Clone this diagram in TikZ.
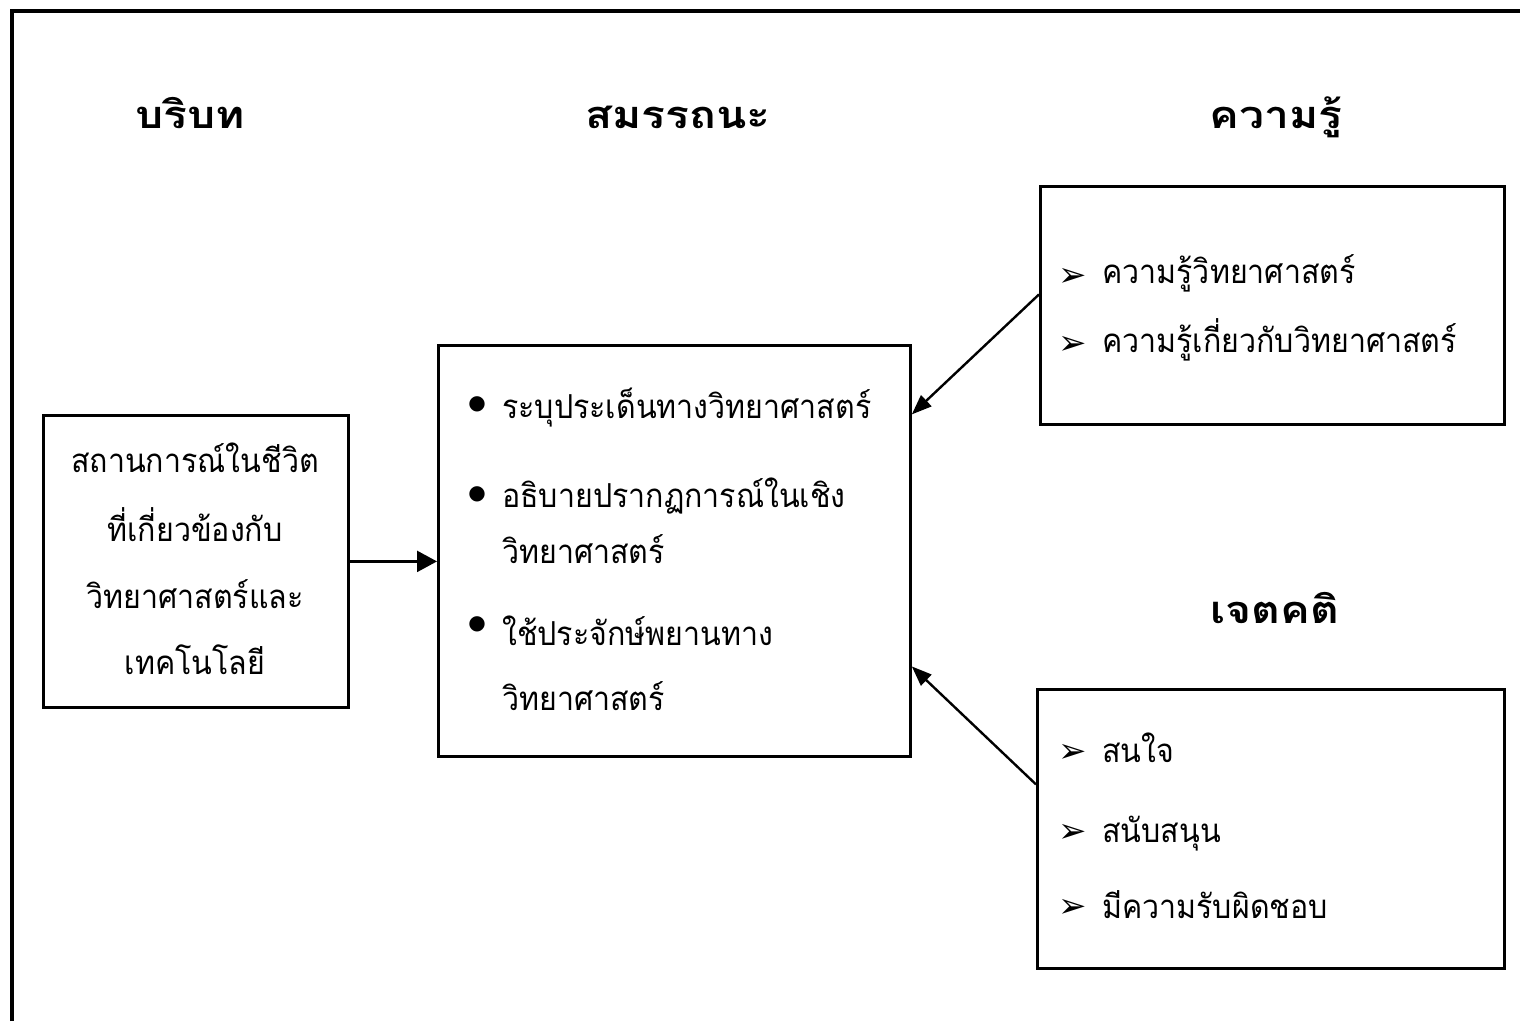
\documentclass[tikz,border=0pt]{standalone}
\usepackage{fontspec}
\newfontfamily\thai[Script=Thai,FakeStretch=0.92]{Loma}
\newfontfamily\thaiw[Script=Thai,FakeStretch=1.17]{Loma}
\newfontfamily\sym{DejaVu Sans}
\usetikzlibrary{arrows.meta,calc}
\begin{document}
\begin{tikzpicture}[x=1pt,y=-1pt,
 box/.style={draw,line width=2.8pt,inner sep=0,anchor=north west},
 ttl/.style={font=\thaiw\bfseries\fontsize{38}{44}\selectfont,anchor=base,inner sep=0},
 txt/.style={font=\thai\fontsize{33}{40}\selectfont,anchor=base west,inner sep=0},
 ctxt/.style={font=\thai\fontsize{33}{40}\selectfont,anchor=base,inner sep=0},
 bul/.style={font=\sym\fontsize{20}{24}\selectfont,anchor=center,inner sep=0},
 arb/.style={font=\sym\fontsize{34}{38}\selectfont,anchor=center,inner sep=0},
 conn/.style={line width=2.4pt,-{Triangle[length=20pt,width=15pt]}}]
\useasboundingbox (0,0) rectangle (1520,1021);
\draw[line width=4pt] (12,1021) -- (12,11) -- (1520,11);
% titles
\node[ttl] (t1) at (190,128) {บริบท};
\node[ttl] (t2) at (678,128) {สมรรถนะ};
\node[ttl] (t3) at (1276,128) {ความรู้};
\node[ttl] (t4) at (1275,623) {เจตคติ};
% boxes
\node[box,minimum width=305pt,minimum height=292pt] (ctx) at (42,414) {};
\node[box,minimum width=472pt,minimum height=411pt] (cmp) at (437,344) {};
\node[box,minimum width=464pt,minimum height=238pt] (kn) at (1039,185) {};
\node[box,minimum width=467pt,minimum height=279pt] (att) at (1036,688) {};
% context text
\node[ctxt] (c1) at (195,472) {สถานการณ์ในชีวิต};
\node[ctxt] (c2) at (195,541) {ที่เกี่ยวข้องกับ};
\node[ctxt] (c3) at (195,608) {วิทยาศาสตร์และ};
\node[ctxt] (c4) at (195,674) {เทคโนโลยี};
% competency text
\node[bul] (b1) at (477,404) {●};
\node[txt] (m1) at (502,418) {ระบุประเด็นทางวิทยาศาสตร์};
\node[bul] (b2) at (477,494) {●};
\node[txt] (m2) at (502,507) {อธิบายปรากฏการณ์ในเชิง};
\node[txt] (m3) at (502,563) {วิทยาศาสตร์};
\node[bul] (b3) at (477,624) {●};
\node[txt] (m4) at (502,645) {ใช้ประจักษ์พยานทาง};
\node[txt] (m5) at (502,710) {วิทยาศาสตร์};
% knowledge text
\node[arb] (k1b) at (1073,277) {➢};
\node[txt] (k1) at (1102,283) {ความรู้วิทยาศาสตร์};
\node[arb] (k2b) at (1073,345) {➢};
\node[txt] (k2) at (1102,352) {ความรู้เกี่ยวกับวิทยาศาสตร์};
% attitude text
\node[arb] (a1b) at (1073,753) {➢};
\node[txt] (a1) at (1102,762) {สนใจ};
\node[arb] (a2b) at (1073,833) {➢};
\node[txt] (a2) at (1102,842) {สนับสนุน};
\node[arb] (a3b) at (1073,908) {➢};
\node[txt] (a3) at (1102,918) {มีความรับผิดชอบ};
% connectors
\draw[line width=2.4pt,-{Triangle[length=20pt,width=21pt]}] (ctx.east) -- (cmp.west |- ctx.east);
\draw[conn] ([yshift=11pt]kn.west) -- ([yshift=136.5pt]cmp.east);
\draw[conn] ([yshift=44.5pt]att.west) -- ([yshift=-115.5pt]cmp.east);
\end{tikzpicture}
\end{document}
